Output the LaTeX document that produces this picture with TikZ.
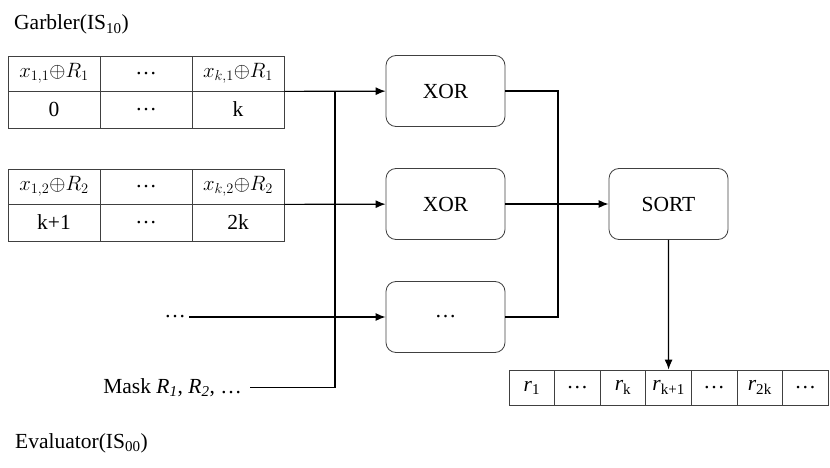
\documentclass[tikz,border=0pt]{standalone}
\usepackage{fontspec}
\setmainfont{Liberation Serif}
\usepackage{tikz}
\usetikzlibrary{positioning,arrows.meta}

\begin{document}
\begin{tikzpicture}[x=1pt,y=-1pt,font=\fontsize{21.5}{26}\selectfont]
    \tikzstyle{cell}=[draw=black!75,line width=0.8pt,minimum width=92pt,inner sep=0pt,node distance=92pt]
    \tikzstyle{top cell}=[cell,minimum height=35pt]
    \tikzstyle{low cell}=[cell,minimum height=37pt]
    \tikzstyle{op box}=[draw=black!75,line width=0.8pt,rounded corners=10pt,minimum width=119pt,minimum height=71pt,node distance=113pt]
    \tikzstyle{out cell}=[draw=black!75,line width=0.8pt,minimum width=45.6pt,minimum height=35pt,inner sep=0pt,node distance=45.6pt]
    \tikzstyle{wire}=[line width=1.2pt]
    \tikzstyle{arrow}=[wire,-{Latex[length=10pt,width=8pt]}]

    \useasboundingbox (0,0) rectangle (830,468);

    \node[anchor=base west,inner sep=0pt] (garbler) at (14,30) {Garbler(IS\textsubscript{10})};
    \node[anchor=base west,inner sep=0pt] (evaluator) at (15,448) {Evaluator(IS\textsubscript{00})};

    % first table
    \node[top cell] (a11) at (54,73.5) {$x_{1,1}{\oplus}R_1$};
    \node[top cell] (a12) [right of=a11] {\dots};
    \node[top cell] (a13) [right of=a12] {$x_{k,1}{\oplus}R_1$};
    \node[low cell] (a21) at (54,109.5) {0};
    \node[low cell] (a22) [right of=a21] {\dots};
    \node[low cell] (a23) [right of=a22] {k};

    % second table
    \node[top cell] (b11) at (54,186.5) {$x_{1,2}{\oplus}R_2$};
    \node[top cell] (b12) [right of=b11] {\dots};
    \node[top cell] (b13) [right of=b12] {$x_{k,2}{\oplus}R_2$};
    \node[low cell] (b21) at (54,222.5) {k+1};
    \node[low cell] (b22) [right of=b21] {\dots};
    \node[low cell] (b23) [right of=b22] {2k};

    \node (dots) at (175,317) {\dots};
    \node[anchor=base east,inner ysep=0pt,inner xsep=8pt] (mask) at (250,393) {Mask \textit{R}\textsubscript{\textit{1}}, \textit{R}\textsubscript{\textit{2}}, \dots};

    \node[op box] (xorA) at (445.5,91) {XOR};
    \node[op box] (xorB) [below of=xorA] {XOR};
    \node[op box] (xorC) [below of=xorB] {\dots};
    \node[op box] (sort) at (668.5,204) {SORT};

    % output array
    \node[out cell] (r1) at (531.8,387.5) {\textit{r}\textsubscript{1}};
    \node[out cell] (r2) [right of=r1] {\dots};
    \node[out cell] (r3) [right of=r2] {\textit{r}\textsubscript{k}};
    \node[out cell] (r4) [right of=r3] {\textit{r}\textsubscript{k+1}};
    \node[out cell] (r5) [right of=r4] {\dots};
    \node[out cell] (r6) [right of=r5] {\textit{r}\textsubscript{2k}};
    \node[out cell] (r7) [right of=r6] {\dots};

    \coordinate (bus) at (335,91);
    \coordinate (merge) at (558,204);

    \draw[arrow] (a13.south east) -- (xorA);
    \draw[arrow] (b13.south east) -- (xorB);
    \draw[arrow] (dots) -- (xorC);
    \draw[wire] (mask.east) -| (bus);
    \draw[wire] (xorA) -| (merge);
    \draw[wire] (xorC) -| (merge);
    \draw[arrow] (xorB) -- (sort);
    \draw[arrow] (sort) -- (r4);
\end{tikzpicture}
\end{document}
